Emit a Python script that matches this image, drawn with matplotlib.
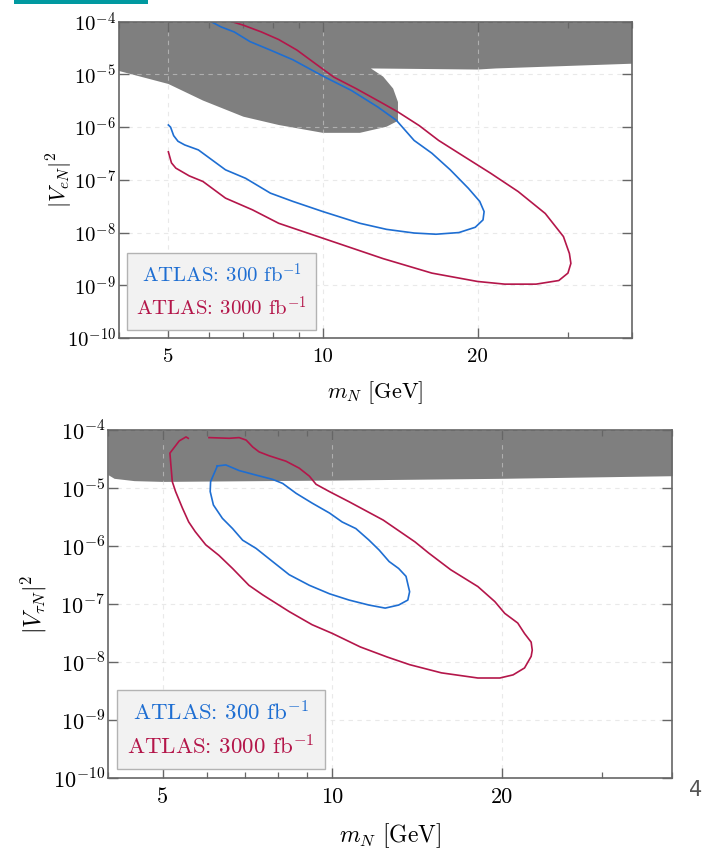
import numpy as np
import matplotlib
matplotlib.use('Agg')
import matplotlib.pyplot as plt
from matplotlib.ticker import FixedLocator, LogLocator, NullLocator, FuncFormatter, NullFormatter
from matplotlib.offsetbox import AnchoredOffsetbox, TextArea, VPacker
from matplotlib.patches import Rectangle

plt.rcParams['font.family'] = 'serif'
plt.rcParams['font.serif'] = ['cmr10']
plt.rcParams['mathtext.fontset'] = 'cm'
plt.rcParams['axes.formatter.use_mathtext'] = True

BLUE = '#1e6ed2'
RED = '#b4164a'
GREY = '#7f7f7f'

# --- electron mixing: excluded region (lower boundary) ---
e_excl_m = [4.0, 5.0, 5.84, 7.0, 8.2, 10.0, 11.8, 13.3, 14.0, 14.0, 13.7, 13.1, 12.4, 20.0, 21.7, 40.0]
e_excl_v = [1.17e-5, 6.6e-6, 3.2e-6, 1.58e-6, 1.1e-6, 7.8e-7, 7.8e-7, 1.02e-6, 1.32e-6,
            3.0e-6, 5.4e-6, 9.1e-6, 1.3e-5, 1.24e-5, 1.3e-5, 1.6e-5]

# ATLAS 300 fb^-1, |V_eN|^2
e300_m = [6.06, 6.33, 6.72, 7.21, 7.9, 8.74, 10.0, 11.35, 12.8, 13.9, 15.05, 16.3, 17.7, 19.2,
          20.2, 20.6, 20.5, 19.8, 18.4, 16.6, 15.05, 13.3, 11.8, 10.0, 8.74, 7.9, 7.07, 6.46,
          5.72, 5.38, 5.22, 5.12, 5.05, 5.0]
e300_v = [1.0e-4, 8.0e-5, 6.4e-5, 4.2e-5, 2.9e-5, 1.9e-5, 9.3e-6, 5.0e-6, 2.4e-6, 1.35e-6,
          5.6e-7, 3.2e-7, 1.55e-7, 6.9e-8, 3.9e-8, 2.5e-8, 1.74e-8, 1.26e-8, 1.0e-8, 9.3e-9,
          9.8e-9, 1.15e-8, 1.5e-8, 2.5e-8, 3.9e-8, 5.6e-8, 1.07e-7, 1.55e-7, 3.7e-7, 4.6e-7,
          5.4e-7, 6.9e-7, 1.0e-6, 1.1e-6]

# ATLAS 3000 fb^-1, |V_eN|^2
e3000_m = [6.66, 7.0, 7.59, 8.2, 8.9, 9.67, 10.5, 11.6, 13.1, 14.0, 15.4, 16.8, 18.8, 21.2,
           24.0, 27.1, 29.4, 30.2, 30.4, 30.0, 28.8, 26.0, 22.6, 20.0, 16.3, 13.1, 10.0, 8.2,
           7.29, 6.46, 5.84, 5.49, 5.17, 5.07, 5.0]
e3000_v = [1.0e-4, 8.6e-5, 6.4e-5, 4.6e-5, 2.9e-5, 1.6e-5, 8.9e-6, 5.4e-6, 2.8e-6, 1.94e-6,
           1.07e-6, 5.6e-7, 2.8e-7, 1.34e-7, 6.0e-8, 2.3e-8, 8.4e-9, 4.0e-9, 2.6e-9, 1.7e-9,
           1.23e-9, 1.05e-9, 1.05e-9, 1.18e-9, 1.7e-9, 3.2e-9, 7.8e-9, 1.5e-8, 2.7e-8, 4.5e-8,
           9.3e-8, 1.19e-7, 1.67e-7, 2.1e-7, 3.4e-7]

# --- tau mixing: excluded region (lower boundary) ---
t_excl_m = [4.0, 4.1, 4.45, 5.0, 10.0, 20.0, 40.0]
t_excl_v = [1.7e-5, 1.47e-5, 1.34e-5, 1.3e-5, 1.37e-5, 1.47e-5, 1.63e-5]

# ATLAS 300 fb^-1, |V_tauN|^2 (closed)
t300_m = [6.25, 6.47, 6.83, 7.32, 7.83, 8.16, 8.62, 9.2, 9.88, 10.4, 11.0, 11.6, 12.1, 12.6,
          13.1, 13.5, 13.7, 13.6, 13.1, 12.4, 11.6, 10.7, 9.88, 9.1, 8.38, 7.83, 7.32, 6.93,
          6.65, 6.38, 6.15, 6.07, 6.08, 6.15, 6.25]
t300_v = [2.4e-5, 2.5e-5, 2.0e-5, 1.67e-5, 1.41e-5, 1.2e-5, 8.1e-6, 5.5e-6, 3.7e-6, 2.6e-6,
          2.0e-6, 1.27e-6, 8.5e-7, 5.4e-7, 4.1e-7, 3.0e-7, 1.63e-7, 1.17e-7, 9.6e-8, 8.5e-8,
          9.6e-8, 1.17e-7, 1.5e-7, 2.1e-7, 3.2e-7, 5.4e-7, 9.1e-7, 1.26e-6, 2.0e-6, 3.0e-6,
          5.1e-6, 8.7e-6, 1.29e-5, 1.67e-5, 2.4e-5]

# ATLAS 3000 fb^-1, |V_tauN|^2
t3000_m = [5.55, 5.50, 5.35, 5.15, 5.17, 5.2, 5.27, 5.42, 5.56, 5.71, 5.96, 6.29, 6.65, 7.11,
           7.52, 8.38, 9.2, 10.0, 11.2, 12.5, 13.7, 15.6, 18.1, 19.8, 20.9, 21.9, 22.5, 22.6,
           22.5, 21.9, 21.3, 20.2, 19.4, 18.1, 16.2, 14.8, 14.0, 12.3, 10.7, 9.87, 9.35, 9.1,
           8.73, 8.27, 7.72, 7.41, 7.22, 7.03, 6.83, 6.56, 6.04]
t3000_v = [7.2e-5, 7.6e-5, 6.5e-5, 4.0e-5, 2.5e-5, 1.29e-5, 8.7e-6, 4.5e-6, 2.6e-6, 1.77e-6,
           1.05e-6, 6.9e-7, 4.1e-7, 2.1e-7, 1.44e-7, 7.4e-8, 4.4e-8, 3.1e-8, 1.82e-8, 1.22e-8,
           9.0e-9, 6.5e-9, 5.3e-9, 5.3e-9, 6.0e-9, 7.9e-9, 1.25e-8, 1.6e-8, 2.2e-8, 3.1e-8,
           4.7e-8, 6.9e-8, 1.1e-7, 2.0e-7, 3.9e-7, 7.6e-7, 1.18e-6, 2.8e-6, 5.8e-6, 8.7e-6,
           1.16e-5, 1.6e-5, 2.2e-5, 2.9e-5, 3.6e-5, 4.2e-5, 5.1e-5, 6.7e-5, 7.4e-5, 7.2e-5, 7.4e-5]

x_ticks = [5, 10, 20]
labels = [r'ATLAS: 300 fb$^{-1}$', r'ATLAS: 3000 fb$^{-1}$']


def style_axes(ax, fs_tick, fs_label, ylabel, fs_leg, xlab_y, ylab_x):
    ax.set_xscale('log')
    ax.set_yscale('log')
    ax.set_xlim(4, 40)
    ax.set_ylim(1e-10, 1e-4)
    ax.xaxis.set_major_locator(FixedLocator(x_ticks))
    ax.xaxis.set_major_formatter(FuncFormatter(lambda v, p: '%d' % v))
    ax.xaxis.set_minor_locator(LogLocator(base=10, subs=np.arange(2, 10)))
    ax.xaxis.set_minor_formatter(NullFormatter())
    ax.yaxis.set_major_locator(FixedLocator([10.0 ** k for k in range(-10, -3)]))
    ax.yaxis.set_major_formatter(FuncFormatter(lambda v, p: r'$10^{%d}$' % round(np.log10(v))))
    ax.yaxis.set_minor_locator(NullLocator())
    ax.tick_params(which='both', direction='in', top=True, right=True, colors='#666666',
                   labelcolor='black', labelsize=fs_tick)
    ax.tick_params(axis='x', which='major', length=7, width=1.0, pad=7)
    ax.tick_params(axis='x', which='minor', length=4.5, width=0.9)
    ax.tick_params(axis='y', which='major', length=7, width=1.0, pad=2)
    for s in ax.spines.values():
        s.set_color('#666666')
        s.set_linewidth(1.2)
    ax.set_axisbelow('line')
    ax.grid(True, which='major', color='#d8d8d8', alpha=0.55, linestyle=(0, (4, 4)), linewidth=0.8)
    ax.set_xlabel(r'$m_N$ [GeV]', fontsize=fs_label)
    ax.xaxis.set_label_coords(0.5, xlab_y)
    ax.set_ylabel(ylabel, fontsize=fs_label)
    ax.yaxis.set_label_coords(ylab_x, 0.5)

    t1 = TextArea(labels[0], textprops=dict(color=BLUE, fontsize=fs_leg))
    t2 = TextArea(labels[1], textprops=dict(color=RED, fontsize=fs_leg))
    pack = VPacker(children=[t1, t2], align='center', pad=0, sep=7)
    box = AnchoredOffsetbox(loc='lower left', child=pack, pad=0.45, borderpad=0.4,
                            frameon=True, prop=dict(size=fs_leg))
    box.patch.set_boxstyle('square', pad=0)
    box.patch.set_facecolor('#f2f2f2')
    box.patch.set_edgecolor('#b3b3b3')
    box.patch.set_linewidth(1.0)
    box.set_zorder(5)
    ax.add_artist(box)


fig = plt.figure(figsize=(7.06, 8.5), dpi=100)
ax1 = fig.add_axes([0.168, 0.6024, 0.7273, 0.372])
ax2 = fig.add_axes([0.153, 0.0847, 0.799, 0.4094])

# top panel: electron
ax1.fill(e_excl_m + [40, 4], e_excl_v + [1e-3, 1e-3], color=GREY, lw=0, zorder=1)
ax1.plot(e300_m, e300_v, color=BLUE, lw=1.2, zorder=2)
ax1.plot(e3000_m, e3000_v, color=RED, lw=1.2, zorder=2)
style_axes(ax1, 15, 16, r'$|V_{eN}|^2$', 15, -0.13, -0.085)

# bottom panel: tau
ax2.fill_between(t_excl_m, t_excl_v, 1e-3, color=GREY, lw=0, zorder=1)
ax2.plot(t300_m, t300_v, color=BLUE, lw=1.2, zorder=2)
ax2.plot(t3000_m, t3000_v, color=RED, lw=1.2, zorder=2)
style_axes(ax2, 16, 17, r'$|V_{\tau N}|^2$', 16.5, -0.125, -0.105)

# slide decorations
fig.patches.append(Rectangle((14 / 706, 1 - 4 / 850), 134 / 706, 4 / 850,
                             transform=fig.transFigure, color='#0099a0', lw=0))
fig.text(0.995, 1 - 790 / 850, '4', family='DejaVu Sans', fontsize=15, color='#555555',
         ha='right', va='center')

fig.savefig('out.png', dpi=100)
